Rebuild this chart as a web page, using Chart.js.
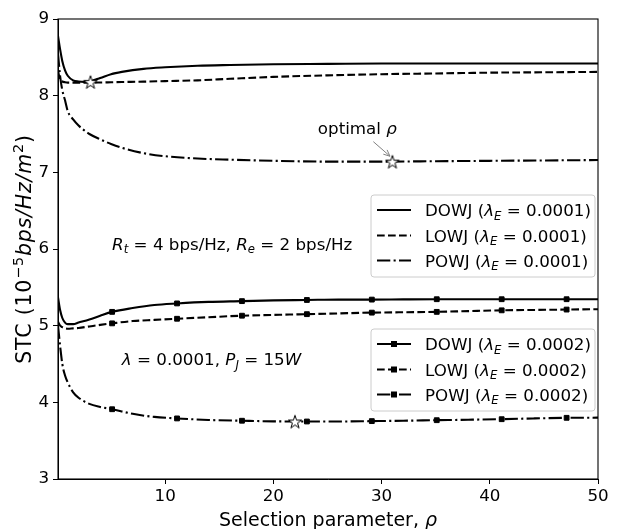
<!DOCTYPE html>
<html><head><meta charset="utf-8">
<script src="https://cdn.jsdelivr.net/npm/chart.js@4"></script>
<style>html,body{margin:0;padding:0;background:#fff}</style>
</head><body>
<canvas id="c" width="618" height="529"></canvas>
<script>
// ---------- data ----------
const xTicks = [10, 20, 30, 40, 50];
const yTicks = [3, 4, 5, 6, 7, 8, 9];

const rhoTop  = [0.1,0.3,0.5,0.75,1,1.5,2,2.5,3,4,5,6,8,10,13,16,20,25,30,35,40,45,50];
const dowjTop = [8.78,8.6,8.45,8.33,8.26,8.2,8.185,8.18,8.185,8.23,8.28,8.31,8.35,8.37,8.39,8.40,8.41,8.415,8.42,8.42,8.42,8.42,8.42];
const lowjTop = [8.32,8.21,8.185,8.175,8.17,8.17,8.17,8.17,8.17,8.172,8.175,8.178,8.183,8.19,8.2,8.22,8.245,8.265,8.28,8.29,8.3,8.305,8.31];
const powjTop = [8.55,8.25,8.07,7.94,7.8,7.69,7.61,7.55,7.5,7.43,7.37,7.32,7.25,7.21,7.18,7.165,7.15,7.14,7.14,7.145,7.15,7.155,7.16];

const rhoBot  = [0.1,0.3,0.5,0.75,1,1.5,2,3,4,5.1,7,9,11.1,14,17.1,20,23.1,26,29.1,32,35.1,38,41.1,44,47.1,50];
const dowjBot = [5.37,5.2,5.1,5.04,5.02,5.02,5.04,5.08,5.13,5.18,5.23,5.27,5.29,5.31,5.32,5.33,5.335,5.34,5.34,5.343,5.345,5.345,5.345,5.345,5.345,5.345];
const lowjBot = [5.05,5.0,4.98,4.965,4.96,4.965,4.97,4.99,5.01,5.03,5.06,5.075,5.09,5.11,5.13,5.14,5.15,5.16,5.17,5.175,5.18,5.19,5.2,5.205,5.21,5.215];
const powjBot = [5.0,4.73,4.5,4.35,4.26,4.13,4.06,3.98,3.94,3.91,3.85,3.81,3.79,3.77,3.76,3.752,3.75,3.75,3.755,3.76,3.767,3.773,3.78,3.79,3.798,3.8];
const markerRho = [5.1,11.1,17.1,23.1,29.1,35.1,41.1,47.1];

const starRho = [3.1, 31, 22];
const starVal = [8.18, 7.14, 3.75];

const legendTopLabels = ['DOWJ', 'LOWJ', 'POWJ'];
const lambdaTop = '0.0001';
const lambdaBot = '0.0002';

// ---------- styles / layout ----------
const FONT = '"DejaVu Sans"';
const FS = 16.7, TFS = 19, YTFS = 20.5;
const LW = 2.1;
const DASH = { solid: [], dashed: [7.7, 3.3], dashdot: [13.3, 3.3, 2.1, 3.3] };
const dashes = [DASH.solid, DASH.dashed, DASH.dashdot];

// annotation anchor points in data coordinates
const noteOptimal = { x: 27.76, y: 7.58 };
const arrowTail = { x: 29.24, y: 7.40 };
const arrowHead = { x: 30.78, y: 7.21 };
const noteRates = { x: 5.1, y: 6.07 };
const noteLambda = { x: 6.0, y: 4.56 };

function makeStar(r) {
  const s = Math.ceil(2 * r + 4);
  const c = document.createElement('canvas');
  c.width = c.height = s;
  const g = c.getContext('2d');
  g.beginPath();
  for (let i = 0; i < 10; i++) {
    const a = -Math.PI / 2 + i * Math.PI / 5;
    const rr = (i % 2) ? r * 0.382 : r;
    const px = s / 2 + rr * Math.cos(a), py = s / 2 + rr * Math.sin(a) + 0.8;
    i ? g.lineTo(px, py) : g.moveTo(px, py);
  }
  g.closePath();
  g.fillStyle = '#fff'; g.fill();
  g.lineWidth = 1; g.strokeStyle = '#000'; g.stroke();
  return c;
}
const starImg = makeStar(7);

function series(label, xs, ys, dash, withMarkers) {
  return {
    label,
    data: xs.map((v, i) => ({ x: v, y: ys[i] })),
    borderColor: '#000', backgroundColor: '#000',
    borderWidth: LW, borderDash: dash,
    pointStyle: 'rect',
    pointRadius: ctx => (withMarkers && ctx.raw && markerRho.includes(ctx.raw.x)) ? 3.4 : 0,
    pointHoverRadius: 0,
    pointBorderWidth: 1, pointBorderColor: '#000', pointBackgroundColor: '#000',
    cubicInterpolationMode: 'monotone', fill: false, order: 1
  };
}

// ---------- rich text helpers ----------
function segFont(s, size) {
  const fs = (s.sub || s.sup) ? size * 0.7 : size;
  return (s.it ? 'italic ' : '') + fs + 'px ' + FONT;
}
function richWidth(ctx, segs, size) {
  let w = 0;
  for (const s of segs) { ctx.font = segFont(s, size); w += ctx.measureText(s.t).width; }
  return w;
}
function drawRich(ctx, segs, x, yMid, size, align) {
  const w = richWidth(ctx, segs, size);
  let cx = align === 'center' ? x - w / 2 : align === 'right' ? x - w : x;
  const base = yMid + 0.36 * size;
  ctx.textAlign = 'left'; ctx.textBaseline = 'alphabetic'; ctx.fillStyle = '#000';
  for (const s of segs) {
    ctx.font = segFont(s, size);
    const dy = s.sub ? 0.22 * size : s.sup ? -0.42 * size : 0;
    ctx.fillText(s.t, cx, base + dy);
    cx += ctx.measureText(s.t).width;
  }
}
function legendSegs(name, lam) {
  return [{ t: name + ' (' }, { t: 'λ', it: 1 }, { t: 'E', it: 1, sub: 1 }, { t: ' = ' + lam }, { t: ')' }];
}
function drawLegend(ctx, left, top, w, h, lam, markers) {
  ctx.save();
  ctx.beginPath();
  ctx.roundRect(left, top, w, h, 3);
  ctx.fillStyle = 'rgba(255,255,255,0.8)'; ctx.fill();
  ctx.strokeStyle = '#cccccc'; ctx.lineWidth = 1; ctx.stroke();
  const rows = [15, 40.5, 65.5];
  for (let i = 0; i < 3; i++) {
    const y = top + rows[i];
    ctx.beginPath();
    ctx.setLineDash(dashes[i]);
    ctx.strokeStyle = '#000'; ctx.lineWidth = LW;
    ctx.moveTo(left + 6, y); ctx.lineTo(left + 40, y); ctx.stroke();
    ctx.setLineDash([]);
    if (markers) { ctx.fillStyle = '#000'; ctx.fillRect(left + 23 - 3, y - 3, 6, 6); }
    drawRich(ctx, legendSegs(legendTopLabels[i], lam), left + 54, y, FS, 'left');
  }
  ctx.restore();
}

const decor = {
  id: 'decor',
  afterDraw(chart) {
    const { ctx, chartArea: ca, scales: { x, y } } = chart;
    ctx.save();
    // frame
    ctx.strokeStyle = '#000'; ctx.lineWidth = 1.1;
    ctx.strokeRect(ca.left, ca.top, ca.right - ca.left, ca.bottom - ca.top);

    // axis titles
    drawRich(ctx, [{ t: 'Selection parameter, ' }, { t: 'ρ', it: 1 }], (ca.left + ca.right) / 2, 519, TFS, 'center');
    ctx.save();
    ctx.translate(24, (ca.top + ca.bottom) / 2);
    ctx.rotate(-Math.PI / 2);
    ctx.letterSpacing = '0.8px';
    drawRich(ctx, [{ t: 'STC (10' }, { t: '−5', sup: 1 }, { t: 'bps/Hz/m', it: 1 }, { t: '2', sup: 1 }, { t: ')' }], 0, 0, YTFS, 'center');
    ctx.letterSpacing = '0px';
    ctx.restore();

    // annotations
    drawRich(ctx, [{ t: 'optimal ' }, { t: 'ρ', it: 1 }], x.getPixelForValue(noteOptimal.x), y.getPixelForValue(noteOptimal.y), FS, 'center');
    const tx = x.getPixelForValue(arrowTail.x), ty = y.getPixelForValue(arrowTail.y);
    const hx = x.getPixelForValue(arrowHead.x), hy = y.getPixelForValue(arrowHead.y);
    ctx.strokeStyle = '#808080'; ctx.lineWidth = 1;
    ctx.beginPath(); ctx.moveTo(tx, ty); ctx.lineTo(hx, hy); ctx.stroke();
    const ang = Math.atan2(hy - ty, hx - tx), hl = 7, ha = 0.42;
    ctx.beginPath();
    ctx.moveTo(hx - hl * Math.cos(ang - ha), hy - hl * Math.sin(ang - ha));
    ctx.lineTo(hx, hy);
    ctx.lineTo(hx - hl * Math.cos(ang + ha), hy - hl * Math.sin(ang + ha));
    ctx.stroke();

    drawRich(ctx, [{ t: 'R', it: 1 }, { t: 't', it: 1, sub: 1 }, { t: ' = 4 bps/Hz, ' }, { t: 'R', it: 1 }, { t: 'e', it: 1, sub: 1 }, { t: ' = 2 bps/Hz' }],
      x.getPixelForValue(noteRates.x), y.getPixelForValue(noteRates.y), FS, 'left');
    drawRich(ctx, [{ t: 'λ', it: 1 }, { t: ' = 0.0001, ' }, { t: 'P', it: 1 }, { t: 'J', it: 1, sub: 1 }, { t: ' = 15' }, { t: 'W', it: 1 }],
      x.getPixelForValue(noteLambda.x), y.getPixelForValue(noteLambda.y), FS, 'left');

    // legends
    const lw = 224, lh = 82;
    drawLegend(ctx, ca.right - 3 - lw, ca.top + 176, lw, lh, lambdaTop, false);
    drawLegend(ctx, ca.right - 3 - lw, ca.top + 310, lw, lh, lambdaBot, true);
    ctx.restore();
  }
};

const tickFont = { family: 'DejaVu Sans', size: FS };
new Chart(document.getElementById('c'), {
  type: 'line',
  data: {
    datasets: [
      { label: 'optimal', data: starRho.map((v, i) => ({ x: v, y: starVal[i] })), showLine: false,
        pointStyle: starImg, pointRadius: 7, pointHoverRadius: 7, order: 0 },
      series('DOWJ 0.0001', rhoTop, dowjTop, DASH.solid, false),
      series('LOWJ 0.0001', rhoTop, lowjTop, DASH.dashed, false),
      series('POWJ 0.0001', rhoTop, powjTop, DASH.dashdot, false),
      series('DOWJ 0.0002', rhoBot, dowjBot, DASH.solid, true),
      series('LOWJ 0.0002', rhoBot, lowjBot, DASH.dashed, true),
      series('POWJ 0.0002', rhoBot, powjBot, DASH.dashdot, true)
    ]
  },
  options: {
    responsive: false, devicePixelRatio: 1, animation: false,
    layout: { padding: { left: 0, right: 20, top: 19, bottom: 0 } },
    plugins: { legend: { display: false }, tooltip: { enabled: false } },
    scales: {
      x: {
        type: 'linear', min: 0.1, max: 50,
        afterBuildTicks: s => { s.ticks = xTicks.map(v => ({ value: v })); },
        afterFit: s => { s.height = 50; },
        ticks: { font: tickFont, color: '#000', padding: 3, maxRotation: 0, callback: v => String(v) },
        grid: { drawOnChartArea: false, drawTicks: true, tickLength: 5, color: '#000' },
        border: { color: '#000', width: 1 }
      },
      y: {
        type: 'linear', min: 3, max: 9,
        afterBuildTicks: s => { s.ticks = yTicks.map(v => ({ value: v })); },
        afterFit: s => { s.width = 58; },
        ticks: { font: tickFont, color: '#000', padding: 4, callback: v => String(v) },
        grid: { drawOnChartArea: false, drawTicks: true, tickLength: 5, color: '#000' },
        border: { color: '#000', width: 1 }
      }
    }
  },
  plugins: [decor]
});
</script>
</body></html>
